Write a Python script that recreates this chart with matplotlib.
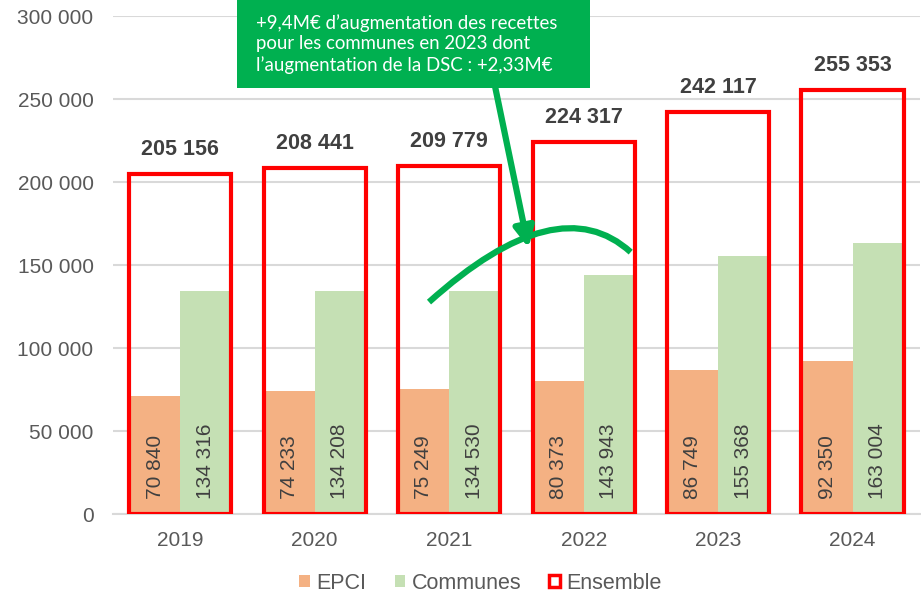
import numpy as np
import matplotlib.pyplot as plt
from matplotlib.patches import Patch, Rectangle, PathPatch
from matplotlib.path import Path

plt.rcParams['font.family'] = ['Liberation Sans', 'DejaVu Sans']

years = ['2019', '2020', '2021', '2022', '2023', '2024']
epci = [70840, 74233, 75249, 80373, 86749, 92350]
communes = [134316, 134208, 134530, 143943, 155368, 163004]
ensemble = [205156, 208441, 209779, 224317, 242117, 255353]

c_epci = '#F4B183'
c_comm = '#C5E0B4'
c_red = '#FF0000'
c_green = '#00B050'
c_text = '#595959'


def fmt(v):
    return f"{v:,}".replace(",", " ")


fig = plt.figure(figsize=(9.21, 5.97), dpi=100)
ax = fig.add_axes([0.1227, 0.139, 0.876, 0.834])

x = np.arange(len(years))
w = 0.375
ax.bar(x - w / 2, epci, w, color=c_epci, zorder=2)
ax.bar(x + w / 2, communes, w, color=c_comm, zorder=2)
ax.bar(x, ensemble, 0.76, fill=False, edgecolor=c_red, linewidth=3, zorder=3)

for i in range(len(years)):
    ax.text(x[i] - w / 2, 9000, fmt(epci[i]), rotation=90, ha='center', va='bottom',
            fontsize=15, color='#404040', zorder=4)
    ax.text(x[i] + w / 2, 9000, fmt(communes[i]), rotation=90, ha='center', va='bottom',
            fontsize=15, color='#404040', zorder=4)
    ax.annotate(fmt(ensemble[i]), (x[i], ensemble[i]), xytext=(0, 10), textcoords='offset points',
                ha='center', va='bottom', fontsize=15.5, fontweight='bold', color='#404040')

ax.set_ylim(0, 300000)
ax.set_xlim(-0.5, len(years) - 0.5)
ax.set_yticks(np.arange(0, 300001, 50000))
ax.set_yticklabels([fmt(v) for v in range(0, 300001, 50000)])
ax.set_xticks(x)
ax.set_xticklabels(years)
ax.tick_params(axis='y', length=0, pad=14, labelsize=15, labelcolor=c_text)
ax.tick_params(axis='x', length=0, pad=12, labelsize=15, labelcolor=c_text)
ax.grid(axis='y', color='#D9D9D9', linewidth=1.5, zorder=0)
ax.set_axisbelow(True)
for s in ['top', 'right', 'left']:
    ax.spines[s].set_visible(False)
ax.spines['bottom'].set_color('#D9D9D9')
ax.spines['bottom'].set_linewidth(1.5)

# green curve + arrow
verts = [(1.85, 127700), (2.81, 197600), (3.35, 157800)]
path = Path(verts, [Path.MOVETO, Path.CURVE3, Path.CURVE3])
ax.add_patch(PathPatch(path, fill=False, edgecolor=c_green, linewidth=4.5,
                       capstyle='butt', zorder=5))
ax.annotate('', xy=(2.59, 160400), xytext=(2.33, 262000),
            arrowprops=dict(arrowstyle='-|>,head_length=1.2,head_width=0.6',
                            color=c_green, linewidth=4.5, shrinkA=0, shrinkB=0),
            annotation_clip=False, zorder=5)

# annotation box
box = Rectangle((237 / 921, 1 - 88 / 597), 353 / 921, 88 / 597, transform=fig.transFigure,
                facecolor=c_green, edgecolor='none', zorder=6)
fig.add_artist(box)
fig.text(256 / 921, 1 - 44 / 597,
         "+9,4M€ d’augmentation des recettes\npour les communes en 2023 dont\nl’augmentation de la DSC : +2,33M€",
         ha='left', va='center', fontsize=13.4, color='white', linespacing=1.25,
         family=['Lato', 'DejaVu Sans'], zorder=7)

handles = [Patch(facecolor=c_epci, edgecolor='none'),
           Patch(facecolor=c_comm, edgecolor='none'),
           Patch(facecolor='white', edgecolor=c_red, linewidth=2.5)]
leg = fig.legend(handles, ['EPCI', 'Communes', 'Ensemble'], loc='center',
                 bbox_to_anchor=(0.522, 0.023), ncol=3, frameon=False, fontsize=15.5,
                 handlelength=0.5, handleheight=0.5, handletextpad=0.3, columnspacing=1.3)
for t in leg.get_texts():
    t.set_color(c_text)

fig.savefig('out.png', dpi=100)
